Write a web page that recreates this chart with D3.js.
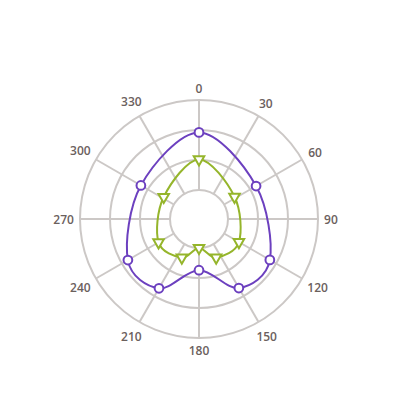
<!DOCTYPE html>
<html><head><meta charset="utf-8">
<script src="https://cdn.jsdelivr.net/npm/d3@7"></script>
<style>body{margin:0;background:#fff}svg{display:block}</style>
</head><body><svg id="c" width="400" height="400"></svg>
<script>
const angleTicks = [0,30,60,90,120,150,180,210,240,270,300,330];
const radialTicks = [0,10,20,30];
const seriesAAngles = [0,60,120,150,180,210,240,300];
const seriesAValues = [19.2,12.3,17.6,16.9,7.4,17.0,17.7,12.7];
const seriesBAngles = [0,58,120,156,180,204,240,302];
const seriesBValues = [10.2,4.3,5.7,4.4,0,4.4,5.9,4.2];

const svg = d3.select("#c");
const cx = 199, cy = 219;
const g = svg.append("g").attr("transform", `translate(${cx},${cy})`);
const r = d3.scaleLinear().domain([0,30]).range([29,119]);
const a = d3.scaleLinear().domain([0,360]).range([0,2*Math.PI]);
const grid = "#ccc8c6";

// spokes
g.selectAll("line.spoke").data(angleTicks).join("line")
  .attr("x1", d => r(0)*Math.sin(a(d))).attr("y1", d => -r(0)*Math.cos(a(d)))
  .attr("x2", d => r(30)*Math.sin(a(d))).attr("y2", d => -r(30)*Math.cos(a(d)))
  .attr("stroke", grid).attr("stroke-width", 2);
// rings
g.selectAll("circle.ring").data(radialTicks).join("circle")
  .attr("r", d => r(d)).attr("fill","none").attr("stroke", grid).attr("stroke-width", 2);

// labels
const labels = g.selectAll("text.lab").data(angleTicks).join("text")
  .attr("font-family","'Open Sans', sans-serif").attr("font-size",12).attr("font-weight",600)
  .attr("fill","#6b605d").attr("text-anchor","middle").attr("dominant-baseline","central")
  .text(d => d);
labels.each(function(d){
  const bb = this.getBBox();
  const th = a(d);
  const s = Math.sin(th), c = Math.cos(th);
  const rr = 125 + Math.abs(bb.width/2*s) + Math.abs(6*c);
  d3.select(this).attr("x", rr*s).attr("y", -rr*c);
});

function drawSeries(angles, values, color, symbolType){
  const pts = angles.map((d,i)=>[a(d), r(values[i])]);
  g.append("path").datum(pts)
    .attr("d", d3.lineRadial().angle(d=>d[0]).radius(d=>d[1]).curve(d3.curveCardinalClosed.tension(0)))
    .attr("fill","none").attr("stroke", color).attr("stroke-width", 2);
  const sym = d3.symbol().type(symbolType).size(symbolType===d3.symbolCircle?60:48);
  g.selectAll(null).data(pts).join("path")
    .attr("d", sym)
    .attr("transform", d => `translate(${d[1]*Math.sin(d[0])},${-d[1]*Math.cos(d[0])})${symbolType===d3.symbolTriangle?' rotate(180)':''}`)
    .attr("fill","#fff").attr("stroke", color).attr("stroke-width", 2);
}
drawSeries(seriesAAngles, seriesAValues, "#6c40bf", d3.symbolCircle);
drawSeries(seriesBAngles, seriesBValues, "#95b52b", d3.symbolTriangle);
</script></body></html>
